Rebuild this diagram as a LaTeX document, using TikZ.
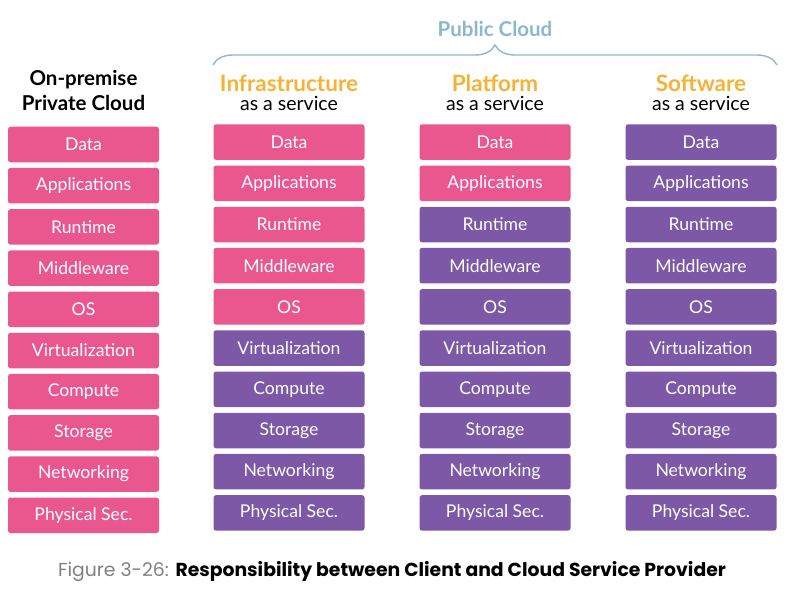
\documentclass[tikz,border=0pt]{standalone}
\usepackage{fontspec}
\setmainfont{Lato}
\newfontfamily\piefont{Poppins}
\usetikzlibrary{decorations.pathreplacing,positioning}
\definecolor{cliente}{RGB}{234,86,142}
\definecolor{proveedor}{RGB}{124,88,166}
\definecolor{naranja}{RGB}{245,178,52}
\definecolor{nube}{RGB}{139,184,204}
\tikzset{
  capa/.style={rounded corners=2.5pt,minimum width=151pt,minimum height=35.5pt,inner sep=0pt,text=white,font=\fontsize{17.6}{19}\selectfont},
  cli/.style={capa,fill=cliente},
  prov/.style={capa,fill=proveedor},
  modelo/.style={font=\fontsize{22.5}{24}\selectfont\bfseries,text=naranja,inner sep=0pt},
  sub/.style={font=\fontsize{19.5}{21}\selectfont,inner sep=0pt},
  local/.style={font=\fontsize{20.5}{22}\selectfont\bfseries,inner sep=0pt},
  llave/.style={decorate,decoration={brace,amplitude=20pt},nube,line width=1.4pt}
}
\begin{document}
\begin{tikzpicture}[x=1pt,y=-1pt]
\useasboundingbox (0,0) rectangle (799,596);
% capas de cada modelo
\foreach \col/\x/\y/\k in {op/83.5/144.5/10,iaas/289/142.1/5,paas/495/142.1/2,saas/701/142.1/0}{
  \foreach \capa [count=\i from 0] in {Data,Applications,Runtime,Middleware,OS,Virtualization,Compute,Storage,Networking,Physical Sec.}{
    \ifnum\i<\k \def\estilo{cli}\else\def\estilo{prov}\fi
    \node[\estilo] (\col-\i) at (\x,{\y+41.2*\i}) {\capa};
  }
}
% cabeceras
\node[local] (op-t1) at (83.5,80) {On-premise};
\node[local] (op-t2) at (83.5,103) {Private Cloud};
\node[modelo] (iaas-t1) at (289,83) {Infrastructure};
\node[sub] (iaas-t2) at (289,103) {as a service};
\node[modelo] (paas-t1) at (495,83) {Platform};
\node[sub] (paas-t2) at (495,103) {as a service};
\node[modelo] (saas-t1) at (701,83) {Software};
\node[sub] (saas-t2) at (701,103) {as a service};
% nube publica
\coordinate (izq) at (213,65);
\coordinate (der) at (777,65);
\draw[llave] (izq) -- (der);
\node[font=\fontsize{20.5}{22}\selectfont\bfseries,text=nube,inner sep=0pt] (publica) at (495,29) {Public Cloud};
% pie
\node[inner sep=0pt,font=\piefont\fontsize{18.8}{20}\selectfont] (pie) at (392,572)
  {\textcolor{gray}{Figure 3-26:} \textbf{Responsibility between Client and Cloud Service Provider}};
\end{tikzpicture}
\end{document}
